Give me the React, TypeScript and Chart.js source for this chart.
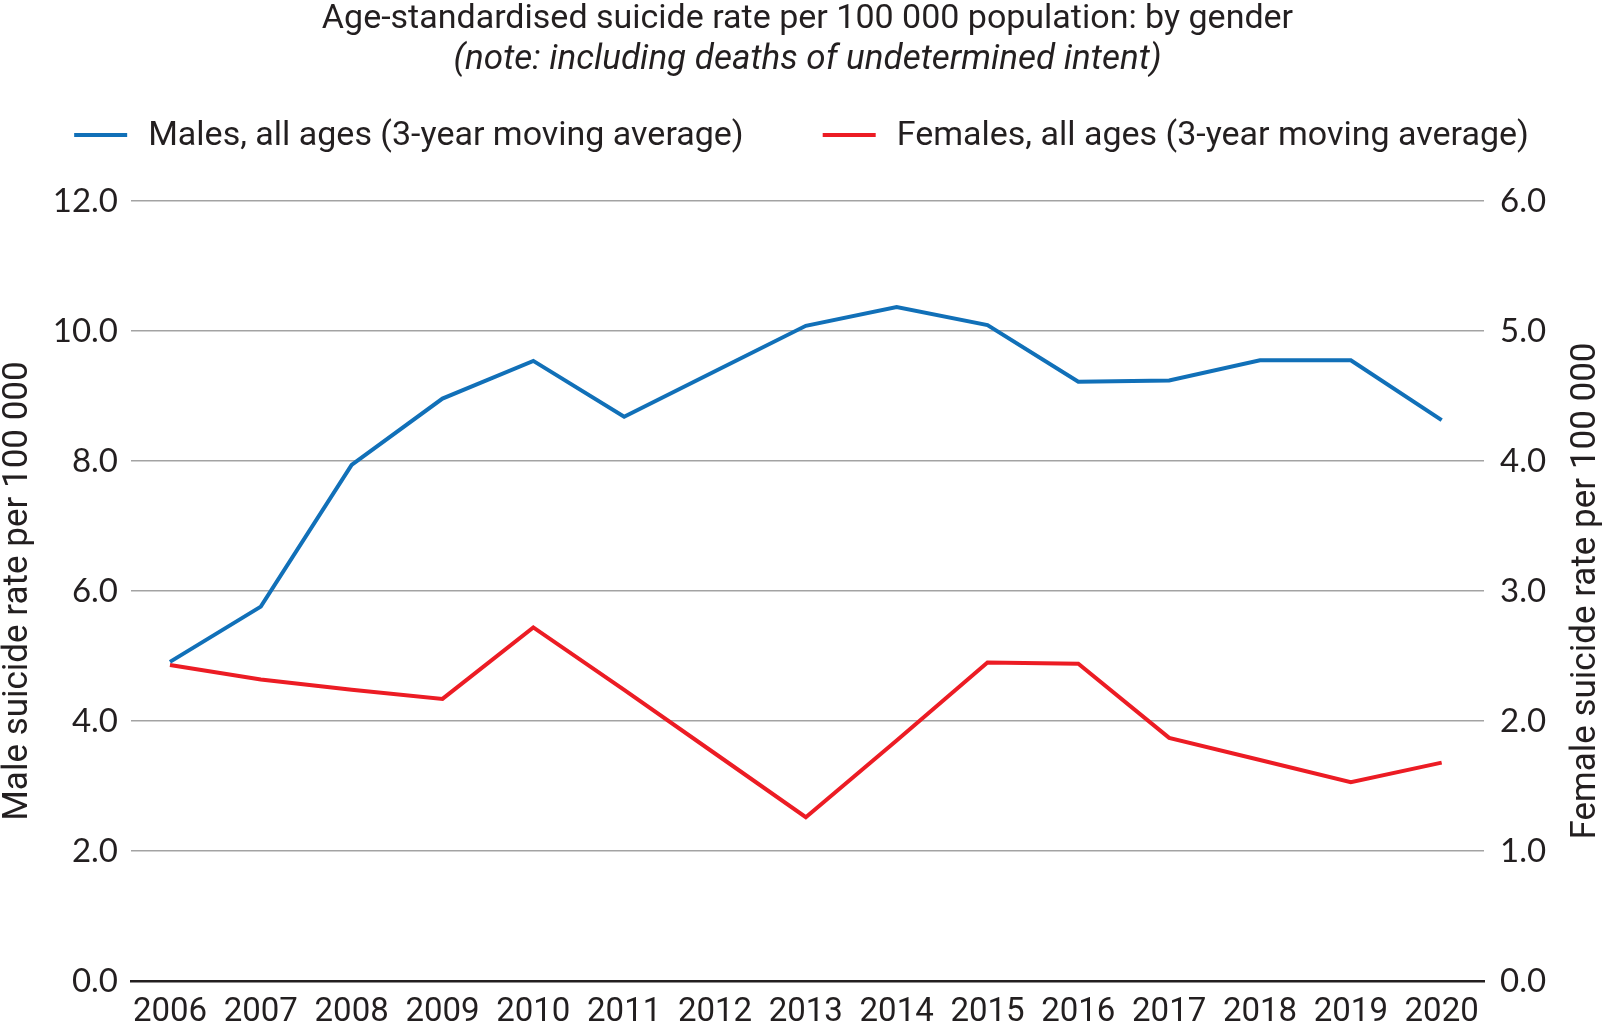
import React, { useEffect, useRef } from 'react';
import { Chart, registerables } from 'chart.js';

Chart.register(...registerables);

// ---- data ----
const YEARS = [2006, 2007, 2008, 2009, 2010, 2011, 2012, 2013, 2014, 2015, 2016, 2017, 2018, 2019, 2020];
const MALES = [4.91, 5.76, 7.94, 8.96, 9.54, 8.68, 9.38, 10.08, 10.37, 10.09, 9.22, 9.24, 9.55, 9.55, 8.63];
const FEMALES = [2.43, 2.32, 2.24, 2.17, 2.72, 2.24, 1.75, 1.26, 1.85, 2.45, 2.44, 1.87, 1.7, 1.53, 1.68];

const TITLE = 'Age-standardised suicide rate per 100 000 population: by gender';
const SUBTITLE = '(note: including deaths of undetermined intent)';
const MALE_LABEL = 'Males, all ages (3-year moving average)';
const FEMALE_LABEL = 'Females, all ages (3-year moving average)';
const LEFT_AXIS_TITLE = 'Male suicide rate per 100 000';
const RIGHT_AXIS_TITLE = 'Female suicide rate per 100 000';

// ---- style ----
const NARROW = "Roboto, 'Liberation Sans', sans-serif";
const WIDE = "Lato, 'DejaVu Sans', sans-serif";
const TEXT = '#231f20';
const BLUE = '#1170b8';
const RED = '#ec1c24';
const GRID = '#a3a3a3';

const overlayPlugin = {
  id: 'overlay',
  afterDraw(chart: any) {
    const ctx = chart.ctx as CanvasRenderingContext2D;
    ctx.save();
    // legend
    ctx.font = `34px ${NARROW}`;
    const items = chart.data.datasets.map((ds: any) => ({ text: ds.label as string, color: ds.borderColor as string }));
    const lineW = 53;
    const gapText = 21;
    const gapItem = 79;
    const widths = items.map((it: any) => lineW + gapText + ctx.measureText(it.text).width);
    const total = widths.reduce((a: number, b: number) => a + b, 0) + gapItem * (items.length - 1);
    let x = chart.width / 2 - total / 2;
    const y = 135;
    items.forEach((it: any, i: number) => {
      ctx.strokeStyle = it.color;
      ctx.lineWidth = 4;
      ctx.beginPath();
      ctx.moveTo(x, y);
      ctx.lineTo(x + lineW, y);
      ctx.stroke();
      ctx.fillStyle = TEXT;
      ctx.textAlign = 'left';
      ctx.textBaseline = 'middle';
      ctx.fillText(it.text, x + lineW + gapText, y + 1);
      x += widths[i] + gapItem;
    });
    // right axis title (reads bottom-to-top)
    const ys = chart.scales.y1;
    ctx.translate(chart.width - 17, (ys.top + ys.bottom) / 2);
    ctx.rotate(-Math.PI / 2);
    ctx.font = `35px ${NARROW}`;
    ctx.textAlign = 'center';
    ctx.textBaseline = 'middle';
    ctx.fillStyle = TEXT;
    ctx.fillText(RIGHT_AXIS_TITLE, 0, 0);
    ctx.restore();
  },
};

export default function App() {
  const canvasRef = useRef<HTMLCanvasElement | null>(null);

  useEffect(() => {
    document.body.style.margin = '0';
    const canvas = canvasRef.current;
    if (!canvas) return;
    const chart = new Chart(canvas, {
      type: 'line',
      data: {
        datasets: [
          {
            label: MALE_LABEL,
            data: YEARS.map((yr, i) => ({ x: yr, y: MALES[i] })),
            borderColor: BLUE,
            backgroundColor: BLUE,
            borderWidth: 4,
            pointRadius: 0,
            tension: 0,
            borderJoinStyle: 'miter',
            yAxisID: 'y',
          },
          {
            label: FEMALE_LABEL,
            data: YEARS.map((yr, i) => ({ x: yr, y: FEMALES[i] })),
            borderColor: RED,
            backgroundColor: RED,
            borderWidth: 4,
            pointRadius: 0,
            tension: 0,
            borderJoinStyle: 'miter',
            yAxisID: 'y1',
          },
        ],
      },
      options: {
        responsive: false,
        animation: false,
        devicePixelRatio: 1,
        layout: { padding: { top: 0, left: 0, right: 0, bottom: 0 } },
        plugins: {
          legend: { display: false },
          tooltip: { enabled: false },
          title: {
            display: true,
            text: TITLE,
            fullSize: false,
            color: TEXT,
            font: { family: NARROW, size: 34, weight: 'normal', lineHeight: 1 },
            padding: { top: 2, bottom: 0 },
          },
          subtitle: {
            display: true,
            text: SUBTITLE,
            fullSize: false,
            color: TEXT,
            font: { family: NARROW, size: 35, style: 'italic', weight: 'normal', lineHeight: 1 },
            padding: { top: 7, bottom: 123 },
          },
        },
        scales: {
          x: {
            type: 'linear',
            min: 2005.571,
            max: 2020.466,
            afterBuildTicks: (scale: any) => {
              scale.ticks = YEARS.map((v) => ({ value: v }));
            },
            afterFit: (scale: any) => {
              scale.height = 47;
            },
            grid: { display: false, drawTicks: false },
            border: { display: true, color: TEXT, width: 2.5 },
            ticks: {
              autoSkip: false,
              maxRotation: 0,
              padding: 15,
              color: TEXT,
              font: { family: NARROW, size: 33, lineHeight: 1 },
              callback: (v: any) => String(v),
            },
          },
          y: {
            type: 'linear',
            position: 'left',
            min: 0,
            max: 12,
            afterFit: (scale: any) => {
              scale.width = 131;
            },
            grid: {
              drawTicks: false,
              lineWidth: 1.5,
              color: (c: any) => (c.tick && c.tick.value === 0 ? 'rgba(0,0,0,0)' : GRID),
            },
            border: { display: false },
            ticks: {
              stepSize: 2,
              padding: 13,
              color: TEXT,
              font: { family: WIDE, size: 33 },
              callback: (v: any) => Number(v).toFixed(1),
            },
            title: {
              display: true,
              text: LEFT_AXIS_TITLE,
              color: TEXT,
              font: { family: NARROW, size: 35, lineHeight: 1.05 },
              padding: { top: 0, bottom: 0 },
            },
          },
          y1: {
            type: 'linear',
            position: 'right',
            min: 0,
            max: 6,
            afterFit: (scale: any) => {
              scale.width = 119;
            },
            grid: { display: false, drawTicks: false },
            border: { display: false },
            ticks: {
              stepSize: 1,
              padding: 16,
              color: TEXT,
              font: { family: WIDE, size: 33 },
              callback: (v: any) => Number(v).toFixed(1),
            },
          },
        },
      },
      plugins: [overlayPlugin],
    });
    return () => chart.destroy();
  }, []);

  return (
    <div style={{ width: 1603, height: 1028 }}>
      <canvas ref={canvasRef} width={1603} height={1028} />
    </div>
  );
}
